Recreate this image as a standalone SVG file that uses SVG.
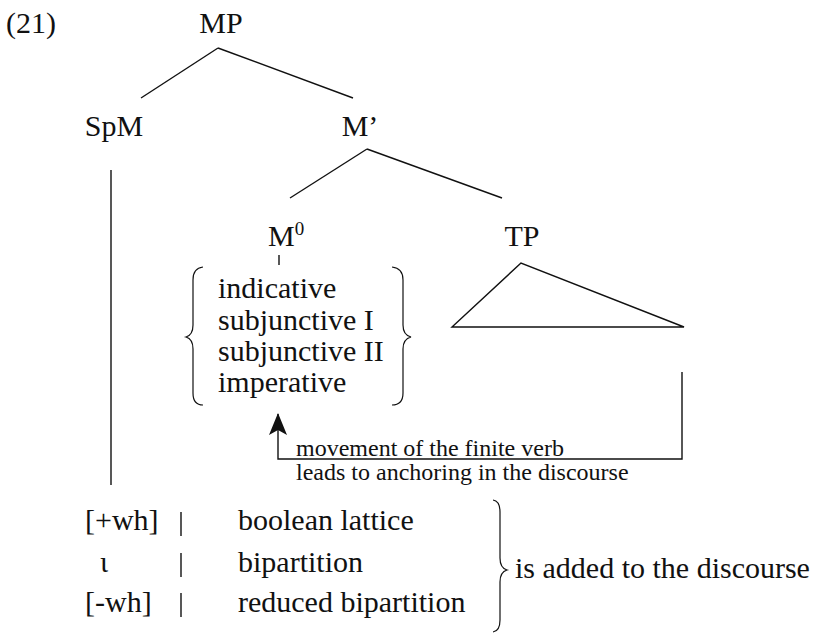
<svg xmlns="http://www.w3.org/2000/svg" width="819" height="635" viewBox="0 0 819 635" font-family="'Liberation Serif', 'DejaVu Serif', serif">
  <style>
    text { font-family: "Liberation Serif", "DejaVu Serif", serif; fill: #111; }
    .lab { font-size: 30px; }
    .note { font-size: 24px; }
    .ln { stroke: #111; stroke-width: 1.4; fill: none; }
    .br { stroke: #111; stroke-width: 1.2; fill: none; }
  </style>
  <defs>
    <marker id="head" viewBox="0 0 22 20" refX="21" refY="10" markerWidth="22" markerHeight="20" markerUnits="userSpaceOnUse" orient="auto">
      <path d="M22,10 L0,1 L5,10 L0,19 Z" fill="#111"/>
    </marker>
  </defs>

  <text class="lab" x="6" y="33">(21)</text>

  <!-- tree nodes -->
  <g id="node-MP"><text class="lab" x="221" y="33" text-anchor="middle">MP</text></g>
  <g id="node-SpM"><text class="lab" x="114" y="136" text-anchor="middle">SpM</text></g>
  <g id="node-Mbar"><text class="lab" x="360" y="136" text-anchor="middle">M’</text></g>
  <g id="node-M0">
    <text class="lab" x="268" y="246">M<tspan font-size="19" dy="-11">0</tspan></text>
  </g>
  <g id="node-TP">
    <text class="lab" x="522" y="246" text-anchor="middle">TP</text>
    <path class="ln" d="M521,263 L452,327 L684,327 Z"/>
  </g>

  <!-- mood features of M0 -->
  <g id="node-moods">
    <path class="br" d="M203,267 Q193,268 193,280 L193,325 Q193,335 186,337 Q193,339 193,349 L193,393 Q193,405 203,405"/>
    <text class="lab" x="218" y="298">indicative</text>
    <text class="lab" x="218" y="330">subjunctive I</text>
    <text class="lab" x="218" y="361">subjunctive II</text>
    <text class="lab" x="218" y="392">imperative</text>
    <path class="br" d="M392,267 Q403,268 403,280 L403,325 Q403,335 411,337 Q403,339 403,349 L403,393 Q403,405 392,405"/>
  </g>

  <!-- force features of SpM -->
  <g id="node-features">
    <text class="lab" x="85" y="530">[+wh]</text>
    <text class="lab" x="100" y="572">ι</text>
    <text class="lab" x="85" y="612">[-wh]</text>
    <line class="ln" x1="181" y1="512" x2="181" y2="536"/>
    <line class="ln" x1="181" y1="553" x2="181" y2="577"/>
    <line class="ln" x1="181" y1="593" x2="181" y2="617"/>
    <text class="lab" x="238" y="530">boolean lattice</text>
    <text class="lab" x="238" y="572">bipartition</text>
    <text class="lab" x="238" y="612">reduced bipartition</text>
    <path class="br" d="M493,500 Q500,501 500,512 L500,558 Q500,568 507,570 Q500,572 500,582 L500,620 Q500,631 493,632"/>
    <text class="lab" x="515" y="578">is added to the discourse</text>
  </g>

  <!-- branches and movement path -->
  <g id="connectors">
    <line class="ln" x1="218" y1="48" x2="141" y2="98"/>
    <line class="ln" x1="218" y1="48" x2="353" y2="98"/>
    <line class="ln" x1="367" y1="149" x2="290" y2="198"/>
    <line class="ln" x1="367" y1="149" x2="502" y2="198"/>
    <line class="ln" x1="279" y1="255" x2="279" y2="265"/>
    <line class="ln" x1="111" y1="170" x2="111" y2="485"/>
    <path class="ln" d="M682,372 L682,459 L278,459 L278,414" marker-end="url(#head)"/>
    <text class="note" x="296" y="456">movement of the finite verb</text>
    <text class="note" x="296" y="480">leads to anchoring in the discourse</text>
  </g>
</svg>
